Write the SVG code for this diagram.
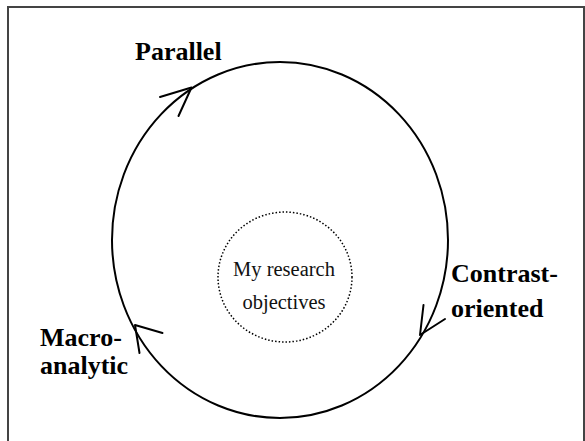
<svg xmlns="http://www.w3.org/2000/svg" width="585" height="441" viewBox="0 0 585 441">
<style>
.lbl{font-family:"Liberation Serif","Times New Roman",serif;font-weight:bold;font-size:26px;fill:#000}
.inner{font-family:"Liberation Serif","Times New Roman",serif;font-size:20.5px;fill:#111;text-anchor:middle}
.arr{fill:none;stroke:#000;stroke-width:2;stroke-linecap:round;stroke-linejoin:round}
</style>
<rect x="0" y="0" width="585" height="441" fill="#fff"/>
<rect x="8" y="7" width="576" height="460" fill="none" stroke="#444" stroke-width="2"/>
<g id="cycle">
<ellipse cx="280" cy="240" rx="168" ry="178" fill="none" stroke="#000" stroke-width="2"/>
</g>
<g id="connectors">
<polyline class="arr" points="160,97 191.5,87.5 178.5,116"/>
<polyline class="arr" points="423.5,305 420,335 445,319"/>
<polyline class="arr" points="162.5,333 135,325 139.5,353"/>
</g>
<g id="center">
<ellipse cx="285" cy="277" rx="67" ry="65" fill="none" stroke="#000" stroke-width="1.5" stroke-dasharray="1.5 2"/>
<text class="inner" x="284" y="276">My research</text>
<text class="inner" x="284" y="309">objectives</text>
</g>
<g id="parallel"><text class="lbl" x="135" y="60">Parallel</text></g>
<g id="contrast"><text class="lbl" x="451" y="282">Contrast-</text><text class="lbl" x="451" y="317">oriented</text></g>
<g id="macro"><text class="lbl" x="40" y="346">Macro-</text><text class="lbl" x="40" y="374">analytic</text></g>
</svg>
